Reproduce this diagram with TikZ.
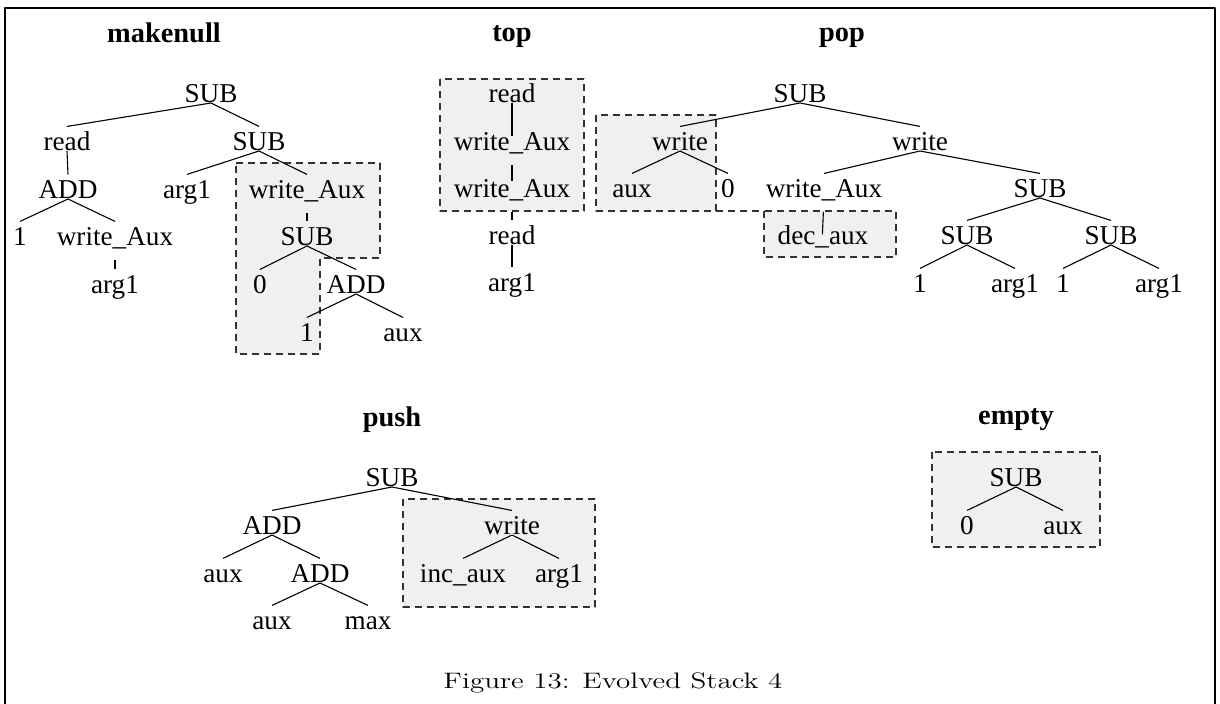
\documentclass[tikz,border=0pt]{standalone}
\usepackage{fontspec}
\usepackage{graphicx}
\newfontfamily\tms{Liberation Serif}
\tikzset{>=latex}

\begin{document}
\begin{tikzpicture}[x=0.5pt,y=-0.5pt,line join=round,line width=0.55pt,
    lbl/.style={font=\tms\fontsize{13.6}{16}\selectfont,anchor=base,inner sep=0pt,text height=12pt},
    ttl/.style={font=\tms\bfseries\fontsize{14.2}{17}\selectfont,anchor=base,inner sep=0pt},
    shade/.style={draw=black!80,fill=black!6,dash pattern=on 3.5pt off 2.5pt},
    fromaux/.style={shorten <=7pt}]
    \useasboundingbox (0,0) rectangle (1220,704);
    \draw[line width=1pt] (5,704) -- (5,8) -- (1215,8) -- (1215,704);

    % shaded parts
    \draw[shade] (236,163) -- (380,163) -- (380,258) -- (320,258) -- (320,354) -- (236,354) -- cycle;
    \draw[shade] (440,79) rectangle (584,211);
    \draw[shade] (596,115) rectangle (716,211);
    \draw[shade] (764,211) rectangle (896,257);
    \draw[shade,fill=none] (716,211) -- (764,211);
    \draw[shade] (403,499) rectangle (595,607);
    \draw[shade] (932,452) rectangle (1100,547);

    \node[ttl] (tMake) at (164,43) {makenull};
    \node[ttl] (tTop) at (512,42) {top};
    \node[ttl] (tPop) at (842,42) {pop};
    \node[ttl] (tPush) at (392,427) {push};
    \node[ttl] (tEmpty) at (1016,425) {empty};

    % makenull
    \node[lbl] (m) at (211,103) {SUB};
    \node[lbl] (mA) at (67,151) {read};
    \node[lbl] (mB) at (259,151) {SUB};
    \node[lbl] (mAA) at (68,199) {ADD};
    \node[lbl] (mBA) at (187,199) {arg1};
    \node[lbl] (mBB) at (307,199) {write\_Aux};
    \node[lbl] (mAAA) at (20,246) {1};
    \node[lbl] (mAAB) at (115,246) {write\_Aux};
    \node[lbl] (mBBA) at (307,246) {SUB};
    \node[lbl] (mAABA) at (115,294) {arg1};
    \node[lbl] (mBBAA) at (260,294) {0};
    \node[lbl] (mBBAB) at (356,294) {ADD};
    \node[lbl] (mBBABA) at (307,342) {1};
    \node[lbl] (mBBABB) at (403,342) {aux};

    % top
    \node[lbl] (t) at (512,103) {read};
    \node[lbl] (tA) at (512,151) {write\_Aux};
    \node[lbl] (tAA) at (512,198) {write\_Aux};
    \node[lbl] (tAAA) at (512,245) {read};
    \node[lbl] (tAAAA) at (512,292) {arg1};

    % pop
    \node[lbl] (p) at (800,103) {SUB};
    \node[lbl] (pA) at (680,151) {write};
    \node[lbl] (pB) at (920,151) {write};
    \node[lbl] (pAA) at (632,198) {aux};
    \node[lbl] (pAB) at (728,198) {0};
    \node[lbl] (pBA) at (824,198) {write\_Aux};
    \node[lbl] (pBB) at (1040,198) {SUB};
    \node[lbl] (pBAA) at (823,245) {dec\_aux};
    \node[lbl] (pBBA) at (967,245) {SUB};
    \node[lbl] (pBBB) at (1111,245) {SUB};
    \node[lbl] (pBBAA) at (920,293) {1};
    \node[lbl] (pBBAB) at (1015,293) {arg1};
    \node[lbl] (pBBBA) at (1063,293) {1};
    \node[lbl] (pBBBB) at (1159,293) {arg1};

    % push
    \node[lbl] (s) at (392,487) {SUB};
    \node[lbl] (sA) at (272,535) {ADD};
    \node[lbl] (sB) at (512,535) {write};
    \node[lbl] (sAA) at (223,583) {aux};
    \node[lbl] (sAB) at (320,583) {ADD};
    \node[lbl] (sBA) at (463,583) {inc\_aux};
    \node[lbl] (sBB) at (559,583) {arg1};
    \node[lbl] (sABA) at (272,630) {aux};
    \node[lbl] (sABB) at (368,630) {max};

    % empty
    \node[lbl] (e) at (1016,487) {SUB};
    \node[lbl] (eA) at (967,535) {0};
    \node[lbl] (eB) at (1063,535) {aux};

    \foreach \p/\c in {m/mA,m/mB,mA/mAA,mB/mBA,mB/mBB,mAA/mAAA,mAA/mAAB,mBBA/mBBAA,mBBA/mBBAB,
        mBBAB/mBBABA,mBBAB/mBBABB,t/tA,tAAA/tAAAA,p/pA,p/pB,pA/pAA,pA/pAB,pB/pBA,pB/pBB,
        pBB/pBBA,pBB/pBBB,pBBA/pBBAA,pBBA/pBBAB,pBBB/pBBBA,pBBB/pBBBB,s/sA,s/sB,sA/sAA,sA/sAB,
        sB/sBA,sB/sBB,sAB/sABA,sAB/sABB,e/eA,e/eB}
        \draw (\p.base) -- (\c.north);
    \draw[fromaux] (mAAB.base) -- (mAABA.north);
    \draw[fromaux] (mBB.base) -- (mBBA.north);
    \draw[shorten >=-5pt] (t.base) -- (tA.north);
    \draw[fromaux,shorten >=-4pt] (tA.base) -- (tAA.north);
    \draw[fromaux] (tAA.base) -- (tAAA.north);
    \draw[fromaux,shorten >=-7pt] (pBA.base) -- (pBAA.north);

    \node[anchor=base,inner sep=0pt,font=\fontsize{11.2}{13}\selectfont] (cap) at (613,689)
        {\scalebox{1.3}[1]{Figure 13: Evolved Stack 4}};
\end{tikzpicture}
\end{document}
